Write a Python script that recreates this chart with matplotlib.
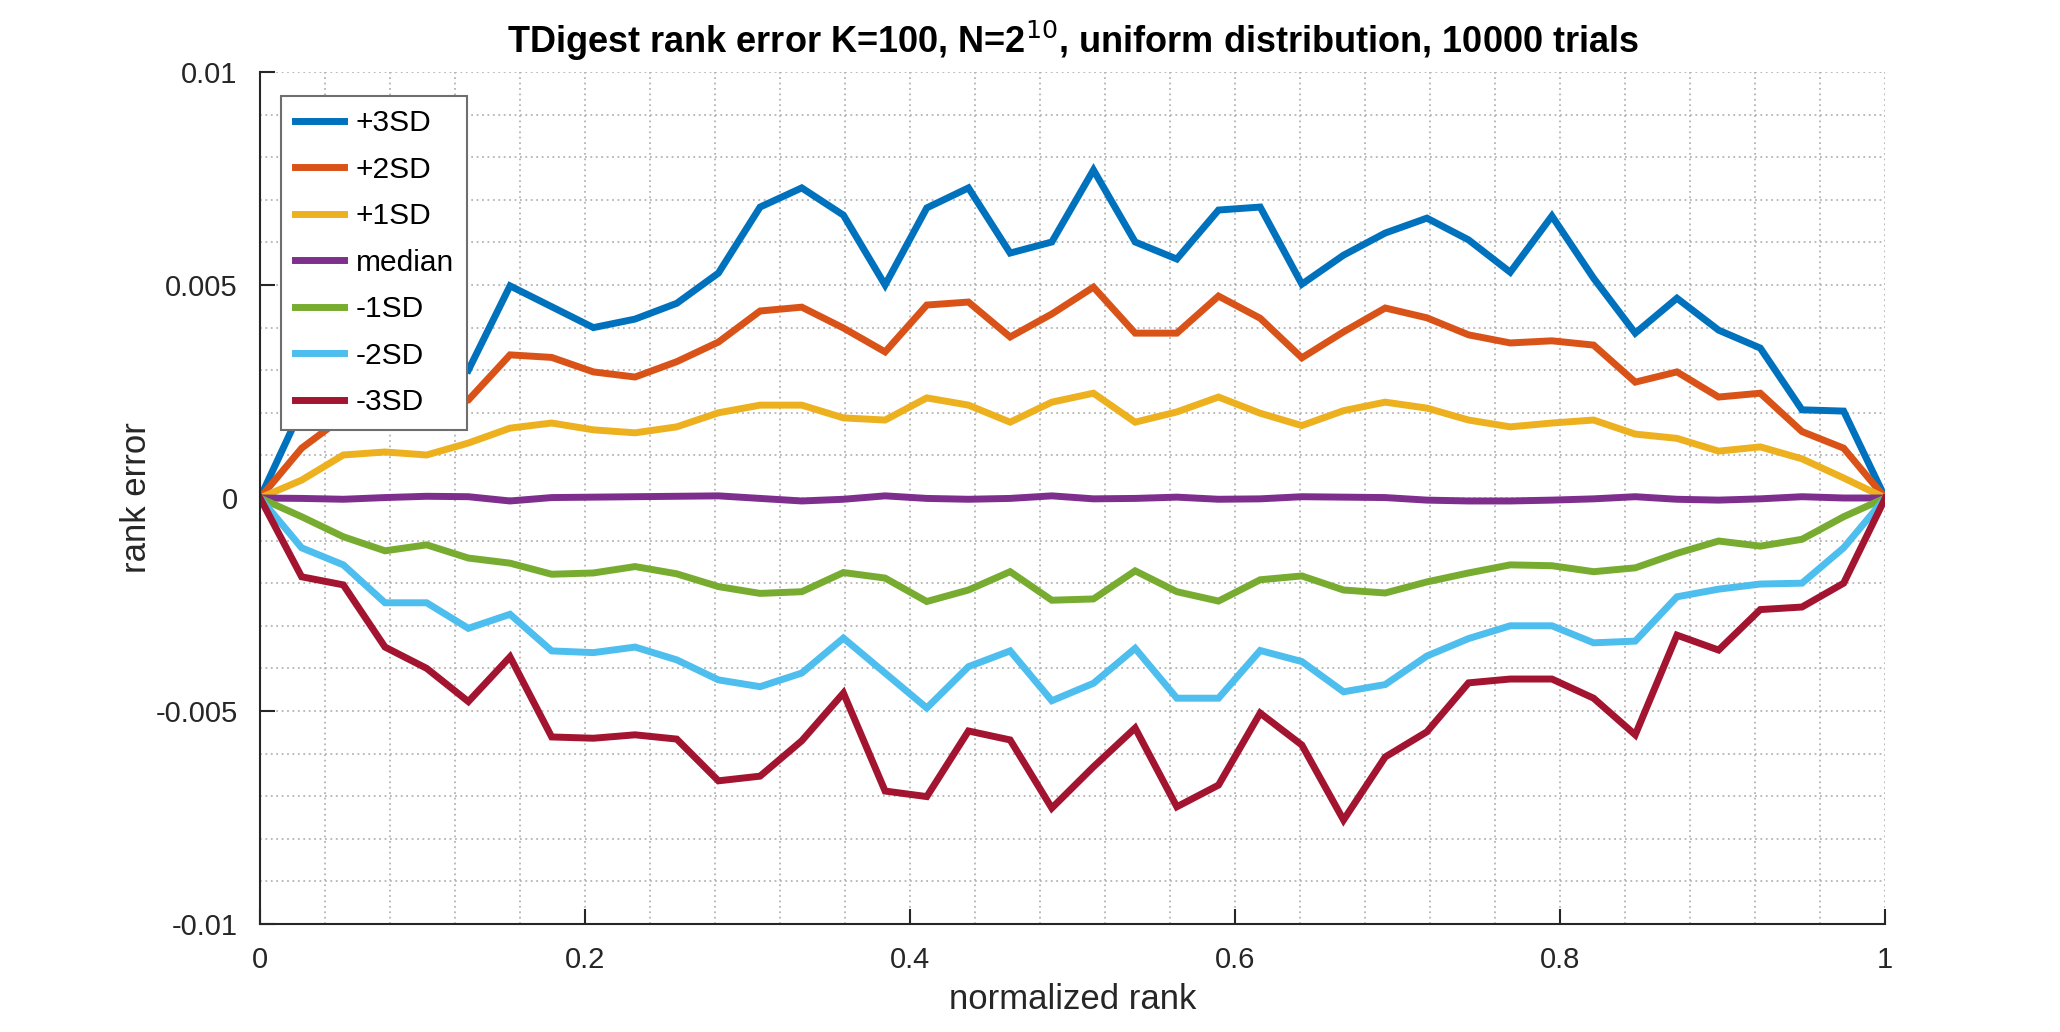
import numpy as np
import matplotlib
matplotlib.use('Agg')
from matplotlib import pyplot as plt
from matplotlib.ticker import MultipleLocator

# 40 evenly spaced ranks from 0 to 1
rank = np.linspace(0, 1, 40)

plus3 = [0, 0.0021, 0.0028, 0.0032, 0.0034, 0.0030, 0.00498, 0.00449, 0.0040, 0.0042,
         0.00457, 0.00528, 0.00683, 0.00728, 0.00664, 0.0050, 0.00681, 0.00728, 0.00575, 0.00601,
         0.0077, 0.00601, 0.00561, 0.00676, 0.00683, 0.00502, 0.0057, 0.00622, 0.00657, 0.00606,
         0.0053, 0.00662, 0.00516, 0.00387, 0.00469, 0.00394, 0.00352, 0.00207, 0.00204, 0]
plus2 = [0, 0.00117, 0.0019, 0.0021, 0.0022, 0.0023, 0.00336, 0.0033, 0.00296, 0.00284,
         0.0032, 0.00366, 0.00439, 0.00448, 0.00399, 0.00343, 0.00453, 0.0046, 0.00378, 0.00432,
         0.00495, 0.00387, 0.00387, 0.00474, 0.00422, 0.00329, 0.0039, 0.00446, 0.00423, 0.00383,
         0.00364, 0.00369, 0.00359, 0.00272, 0.00296, 0.00237, 0.00246, 0.00156, 0.00117, 0]
plus1 = [0, 0.00042, 0.00101, 0.00108, 0.00101, 0.00129, 0.00164, 0.00176, 0.0016, 0.00153,
         0.00167, 0.0020, 0.00218, 0.00218, 0.00188, 0.00183, 0.00235, 0.00218, 0.00178, 0.00225,
         0.00246, 0.00178, 0.00202, 0.00237, 0.00199, 0.0017, 0.00205, 0.00225, 0.00211, 0.00183,
         0.00167, 0.00176, 0.00183, 0.0015, 0.0014, 0.0011, 0.0012, 0.00092, 0.00047, 0]
median = [0, -0.00001, -0.00003, 0.00001, 0.00004, 0.00003, -0.00007, 0.00001, 0.00002, 0.00003,
          0.00004, 0.00005, -0.00001, -0.00007, -0.00003, 0.00005, -0.00001, -0.00003, -0.00001, 0.00005,
          -0.00002, -0.00001, 0.00002, -0.00003, -0.00002, 0.00003, 0.00002, 0.00001, -0.00005, -0.00007,
          -0.00007, -0.00005, -0.00002, 0.00003, -0.00003, -0.00005, -0.00002, 0.00003, 0, 0]
minus1 = [0, -0.00044, -0.00091, -0.00124, -0.0011, -0.00141, -0.00153, -0.00179, -0.00176, -0.00161,
          -0.00178, -0.00208, -0.00224, -0.0022, -0.00175, -0.00188, -0.00243, -0.00216, -0.00173, -0.0024,
          -0.00237, -0.00171, -0.0022, -0.00242, -0.00192, -0.00183, -0.00216, -0.00223, -0.00197, -0.00176,
          -0.00157, -0.00159, -0.00173, -0.00164, -0.0013, -0.00101, -0.00113, -0.00097, -0.00044, 0]
minus2 = [0, -0.00117, -0.00157, -0.00246, -0.00246, -0.00306, -0.00273, -0.00359, -0.00363, -0.0035,
          -0.0038, -0.00427, -0.00443, -0.00411, -0.00329, -0.00411, -0.00493, -0.00396, -0.00359, -0.00476,
          -0.00435, -0.00353, -0.0047, -0.0047, -0.00358, -0.00384, -0.00455, -0.00438, -0.00371, -0.0033,
          -0.003, -0.003, -0.0034, -0.00336, -0.00232, -0.00214, -0.00202, -0.002, -0.00117, 0]
minus3 = [0, -0.00185, -0.00204, -0.0035, -0.004, -0.00478, -0.00373, -0.00561, -0.00564, -0.00556,
          -0.00566, -0.00664, -0.00653, -0.0057, -0.00458, -0.00688, -0.00701, -0.00547, -0.00568, -0.00728,
          -0.00631, -0.0054, -0.00725, -0.00674, -0.00505, -0.0058, -0.00756, -0.00608, -0.00549, -0.00434,
          -0.00425, -0.00425, -0.0047, -0.00556, -0.00322, -0.00357, -0.00262, -0.00256, -0.002, 0]

series = [plus3, plus2, plus1, median, minus1, minus2, minus3]
labels = ['+3SD', '+2SD', '+1SD', 'median', '-1SD', '-2SD', '-3SD']
colours = ['#0072BD', '#D95319', '#EDB120', '#7E2F8E', '#77AC30', '#4DBEEE', '#A2142F']

xticks = [0, 0.2, 0.4, 0.6, 0.8, 1]
xticklabels = ['0', '0.2', '0.4', '0.6', '0.8', '1']
yticks = [-0.01, -0.005, 0, 0.005, 0.01]
yticklabels = ['-0.01', '-0.005', '0', '0.005', '0.01']

plt.rcParams['font.family'] = ['Liberation Sans', 'DejaVu Sans']

fig = plt.figure(figsize=(20.6, 10.32), dpi=100)
ax = fig.add_axes([0.1262, 0.1047, 0.789, 0.8255])

for values, label, colour in zip(series, labels, colours):
    ax.plot(rank, values, c=colour, lw=5.0, label=label, solid_joinstyle='miter')

ax.set_xlim(0, 1)
ax.set_ylim(-0.01, 0.01)
ax.set_xticks(xticks)
ax.set_xticklabels(xticklabels)
ax.set_yticks(yticks)
ax.set_yticklabels(yticklabels)
ax.xaxis.set_minor_locator(MultipleLocator(0.04))
ax.yaxis.set_minor_locator(MultipleLocator(0.001))

ax.grid(which='both', axis='both', linestyle=(0, (1, 2)), color='#b4b4b4', lw=1.3)
ax.set_axisbelow(True)
ax.tick_params(which='major', direction='in', length=11, width=1.5, colors='#262626',
               labelsize=21, pad=16)
ax.tick_params(which='minor', length=0)
for side in ['top', 'right']:
    ax.spines[side].set_visible(False)
for side in ['left', 'bottom']:
    ax.spines[side].set_color('#262626')
    ax.spines[side].set_linewidth(1.5)

ax.set_xlabel('normalized rank', fontsize=25, color='#262626', labelpad=6)
ax.set_ylabel('rank error', fontsize=25, color='#262626', labelpad=2)
ax.set_title('TDigest rank error K=100, N=2$^{10}$, uniform distribution, 10000 trials',
             fontsize=26, fontweight='bold', pad=14)

leg = ax.legend(loc='upper left', bbox_to_anchor=(0.013, 0.972), borderaxespad=0,
                fontsize=21.5, handlelength=1.65, handletextpad=0.4, labelspacing=0.62,
                borderpad=0.45, fancybox=False, framealpha=1)
leg.get_frame().set_edgecolor('#6e6e6e')
leg.get_frame().set_linewidth(1.5)

plt.savefig('out.png', dpi=100)
